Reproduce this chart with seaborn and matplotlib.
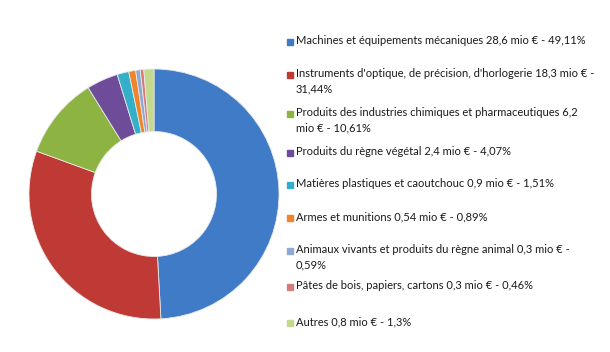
import matplotlib
matplotlib.use("Agg")
import matplotlib.pyplot as plt
import seaborn as sns

sns.set_style("white")
plt.rcParams['font.family'] = ['Lato', 'DejaVu Sans']

categories = [
    "Machines et équipements mécaniques 28,6 mio € - 49,11%",
    "Instruments d'optique, de précision, d'horlogerie 18,3 mio € -\n31,44%",
    "Produits des industries chimiques et pharmaceutiques 6,2\nmio € - 10,61%",
    "Produits du règne végétal 2,4 mio € - 4,07%",
    "Matières plastiques et caoutchouc 0,9 mio € - 1,51%",
    "Armes et munitions 0,54 mio € - 0,89%",
    "Animaux vivants et produits du règne animal 0,3 mio € -\n0,59%",
    "Pâtes de bois, papiers, cartons 0,3 mio € - 0,46%",
    "Autres 0,8 mio € - 1,3%",
]
shares = [49.11, 31.44, 10.61, 4.07, 1.51, 0.89, 0.59, 0.46, 1.3]
colors = ["#3F7BC6", "#C03A35", "#8DB443", "#6E4C9A", "#33AFC9",
          "#F0842A", "#8FA9D3", "#D47E7C", "#C5D98E"]

fig = plt.figure(figsize=(6.10, 3.52), dpi=100)
ax = fig.add_axes([29/610, 33/352, 250/610, 250/352])
ax.pie(shares, colors=colors, startangle=90, counterclock=False,
       radius=1.0, wedgeprops=dict(width=0.5, edgecolor="#e8e8e8", linewidth=0.6))
ax.set_xlim(-1.0, 1.0)
ax.set_ylim(-1.0, 1.0)
ax.set_aspect("equal")
ax.axis("off")

# legend, drawn manually
label_y = [42, 75, 114, 153, 185, 218, 251, 287, 323]
for lab, col, y in zip(categories, colors, label_y):
    yf = 1 - y / 352
    fig.patches.append(plt.Rectangle((287/610, yf - 3/352), 6/610, 6/352,
                                     transform=fig.transFigure, color=col,
                                     figure=fig))
    fig.text(296/610, yf + 7/352, lab, fontsize=8.0, color="#1a1a1a",
             va="top", ha="left", linespacing=1.5)

fig.savefig("out.png", dpi=100, facecolor="white")
